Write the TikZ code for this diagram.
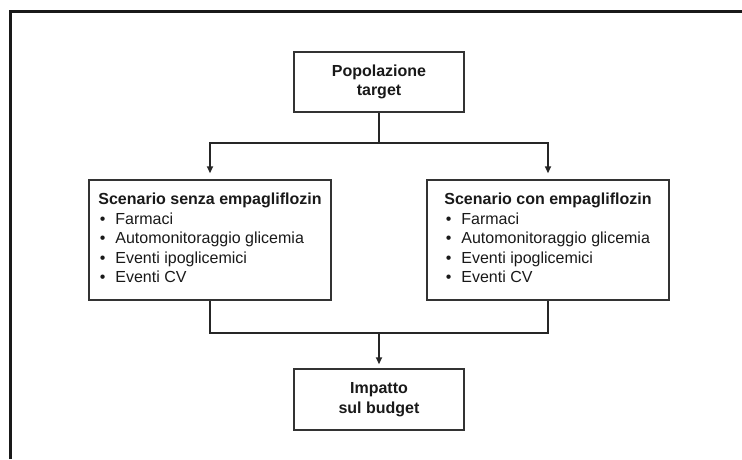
\documentclass[tikz,border=0pt]{standalone}
\usepackage{fontspec}
\setmainfont{Liberation Sans}
\usetikzlibrary{arrows.meta}
\tikzset{
  box/.style={draw=black!80, line width=1.4pt, inner sep=0pt, align=center, font=\fontsize{16}{19.5}\selectfont, text=black!90},
  conn/.style={draw=black!85, line width=1.6pt},
  arr/.style={conn, -{Triangle[length=7pt,width=6pt]}},
}
\newcommand{\itm}[1]{\makebox[17pt][l]{\hspace{1.5pt}•}#1}
\begin{document}
\begin{tikzpicture}[x=1pt,y=-1pt]
\useasboundingbox (0,0) rectangle (742,459);
\draw[line width=2.2pt, draw=black!90] (10.5,459) -- (10.5,11.5) -- (742,11.5);

\node[box, minimum width=170pt, minimum height=60pt, font=\fontsize{16}{19.5}\selectfont\bfseries] (top) at (379,82) {Popolazione\\target};
\node[box, minimum width=242pt, minimum height=120pt] (left) at (210,240)
  {\begin{tabular}{@{}l@{}}\textbf{Scenario senza empagliflozin}\\ \itm{Farmaci}\\ \itm{Automonitoraggio glicemia}\\ \itm{Eventi ipoglicemici}\\ \itm{Eventi CV}\end{tabular}};
\node[box, minimum width=242pt, minimum height=120pt] (right) at (548,240)
  {\begin{tabular}{@{}l@{}}\textbf{Scenario con empagliflozin}\\ \itm{Farmaci}\\ \itm{Automonitoraggio glicemia}\\ \itm{Eventi ipoglicemici}\\ \itm{Eventi CV}\end{tabular}};
\node[box, minimum width=170pt, minimum height=61pt, font=\fontsize{16}{19.5}\selectfont\bfseries] (bottom) at (379,399.5) {Impatto\\sul budget};

\coordinate (split) at (379,143);
\coordinate (merge) at (379,333);
\draw[conn] (top.south) -- (split);
\draw[arr, shorten >=6pt] (split) -| (left.north);
\draw[arr, shorten >=6pt] (split) -| (right.north);
\draw[conn] (left.south) |- (merge) -| (right.south);
\draw[arr, shorten >=4pt] (merge) -- (bottom.north);
\end{tikzpicture}
\end{document}
